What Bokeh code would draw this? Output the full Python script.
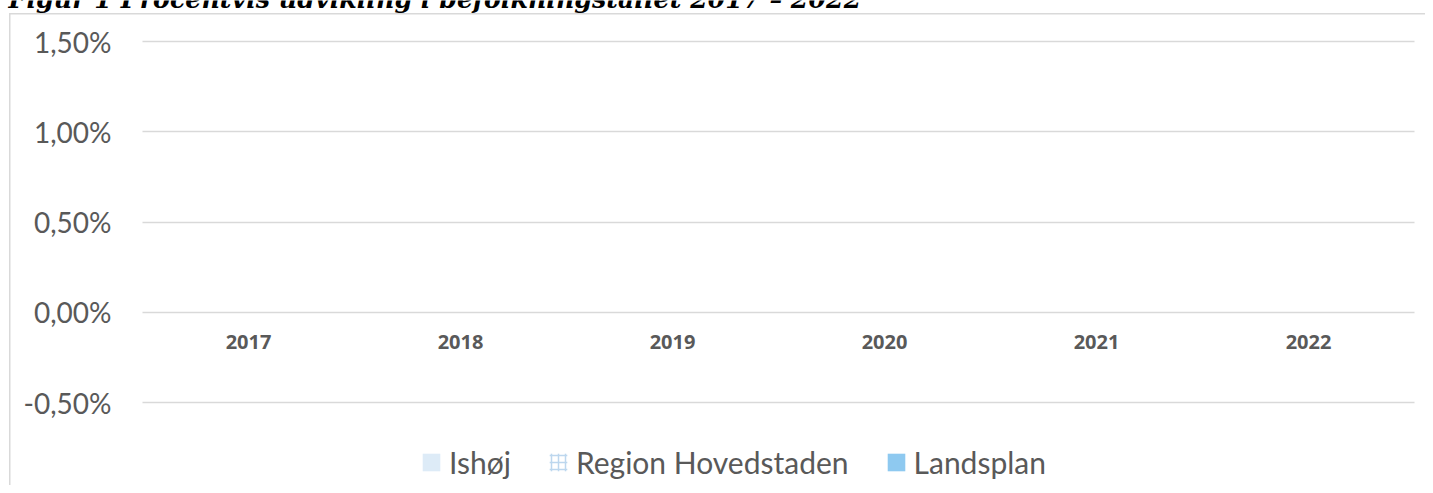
from bokeh.plotting import figure
from bokeh.models import (FixedTicker, CustomJSTickFormatter, Legend, LegendItem,
                          Label, ColumnDataSource, Range1d, Grid)
from bokeh.embed import file_html
from bokeh.resources import INLINE

# ---- data (no bars are visible in the reference: values are missing) ----
years = ["2017", "2018", "2019", "2020", "2021", "2022"]
ishoej = [float("nan")] * 6
region_hovedstaden = [float("nan")] * 6
landsplan = [float("nan")] * 6
series_names = ["Ishøj", "Region Hovedstaden", "Landsplan"]
y_ticks = [-0.5, 0.0, 0.5, 1.0, 1.5]
title_text = "Figur 1 Procentvis udvikling i befolkningstallet 2017 – 2022"

n = len(years)
centers = [i + 0.5 for i in range(n)]          # category centres on the x scale
bar_w = 0.25
src = ColumnDataSource(dict(
    x1=[c - bar_w for c in centers], x2=centers, x3=[c + bar_w for c in centers],
    ishoej=ishoej, region=region_hovedstaden, land=landsplan))

# ---- layout (pixels) ----
W, H = 1425, 485
PLOT_L, PLOT_R = 142, 1414        # category area
GRID_TOP, GRID_BOT = 41, 402      # y of top / bottom tick gridlines

px_per_cat = (PLOT_R - PLOT_L) / n
x_start = -PLOT_L / px_per_cat
x_end = n + (W - PLOT_R) / px_per_cat
px_per_unit = (GRID_BOT - GRID_TOP) / (y_ticks[-1] - y_ticks[0])
y_top = y_ticks[-1] + GRID_TOP / px_per_unit
y_bot = y_ticks[0] - (H - GRID_BOT) / px_per_unit

p = figure(x_range=Range1d(x_start, x_end), y_range=Range1d(y_bot, y_top),
           width=W, height=H, output_backend="svg", toolbar_location=None,
           min_border=0)
p.styles = {
    "background-image": "linear-gradient(#D9D9D9, #D9D9D9), linear-gradient(#D9D9D9, #D9D9D9)",
    "background-size": "1.5px 100%, 100% 1.5px",
    "background-position": "9px 13px, 9px 13px",
    "background-repeat": "no-repeat",
}
p.border_fill_alpha = 0
p.background_fill_alpha = 0
p.outline_line_color = None

r1 = p.vbar(x="x1", top="ishoej", width=bar_w, source=src,
            fill_color="#DDEBF7", line_color=None)
r2 = p.vbar(x="x2", top="region", width=bar_w, source=src,
            fill_color="white", fill_alpha=0, line_color=None,
            hatch_pattern="+", hatch_color="#BDD7EE", hatch_scale=7, hatch_weight=1.5)
r3 = p.vbar(x="x3", top="land", width=bar_w, source=src,
            fill_color="#8EC9F0", line_color=None)

# grid (only across the category area)
p.xgrid.grid_line_color = None
if "cross_bounds" in Grid.properties():
    p.ygrid.grid_line_color = "#D9D9D9"
    p.ygrid.grid_line_width = 1.5
    p.ygrid.ticker = FixedTicker(ticks=y_ticks)
    p.ygrid.cross_bounds = (0, n)
else:
    p.ygrid.grid_line_color = None
    p.segment(x0=[0] * len(y_ticks), x1=[n] * len(y_ticks), y0=y_ticks, y1=y_ticks,
              line_color="#D9D9D9", line_width=1.5)

# y axis (drawn at the left edge of the categories)
p.yaxis.fixed_location = 0
p.yaxis.ticker = FixedTicker(ticks=y_ticks)
p.yaxis.formatter = CustomJSTickFormatter(
    code="return tick.toFixed(2).replace('.', ',') + '%';")
p.yaxis.axis_line_color = None
p.yaxis.major_tick_line_color = None
p.yaxis.minor_tick_line_color = None
p.yaxis.major_tick_out = 0
p.yaxis.major_label_standoff = 31
p.yaxis.major_label_text_font = "Lato"
p.yaxis.major_label_text_font_size = "28px"
p.yaxis.major_label_text_color = "#595959"

# x axis (categories) crossing at 0
p.xaxis.fixed_location = 0
p.xaxis.ticker = FixedTicker(ticks=centers)
p.xaxis.major_label_overrides = {c: y for c, y in zip(centers, years)}
p.xaxis.axis_line_color = None
p.xaxis.major_tick_line_color = None
p.xaxis.minor_tick_line_color = None
p.xaxis.major_tick_out = 0
p.xaxis.major_label_standoff = 23
p.xaxis.major_label_text_font = "Open Sans"
p.xaxis.major_label_text_font_style = "bold"
p.xaxis.major_label_text_font_size = "20px"
p.xaxis.major_label_text_color = "#595959"

# legend
legend = Legend(items=[LegendItem(label=series_names[0], renderers=[r1]),
                       LegendItem(label=series_names[1], renderers=[r2]),
                       LegendItem(label=series_names[2], renderers=[r3])],
                orientation="horizontal", location=(420, 5),
                padding=0, margin=0, spacing=36, label_standoff=7,
                glyph_width=22, glyph_height=22,
                label_text_font="Lato", label_text_font_size="30px",
                label_text_color="#595959",
                border_line_color=None, background_fill_alpha=0)
p.add_layout(legend, "center")

# title (cut off at top, as in the reference)
title = Label(x=8, y=H + 2, x_units="screen", y_units="screen",
              text=title_text, text_font="DejaVu Serif", text_font_style="bold italic",
              text_font_size="25.3px", text_color="black", text_baseline="alphabetic")
p.add_layout(title)

open("out.html", "w").write(file_html(p, INLINE))
